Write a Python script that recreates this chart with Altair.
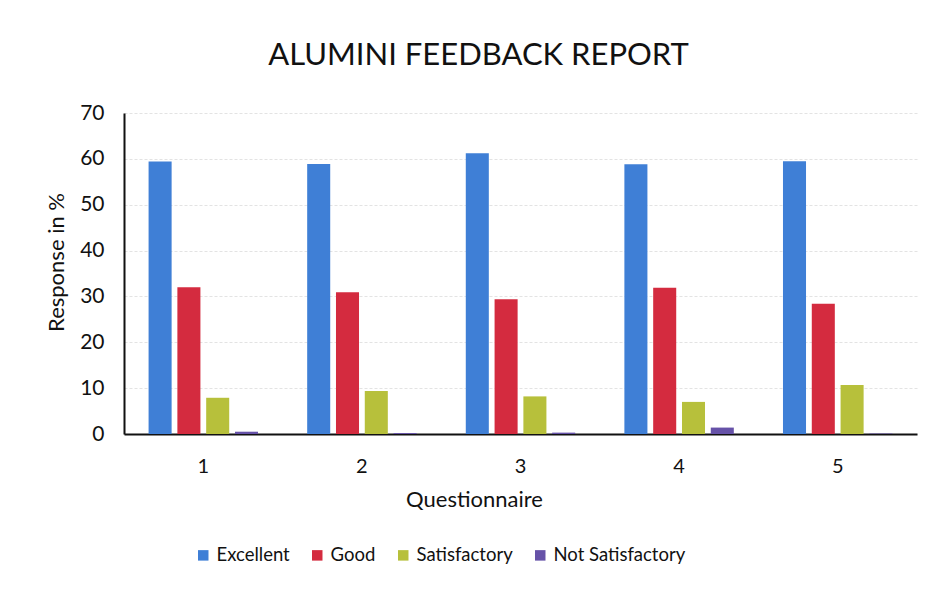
import altair as alt
import pandas as pd

questions = ["1", "2", "3", "4", "5"]
categories = ["Excellent", "Good", "Satisfactory", "Not Satisfactory"]
excellent = [59.4, 58.9, 61.2, 58.8, 59.5]
good = [32.0, 30.9, 29.4, 31.9, 28.4]
satisfactory = [7.9, 9.4, 8.2, 7.0, 10.7]
not_satisfactory = [0.5, 0.2, 0.3, 1.4, 0.1]
colors = ["#3f7fd6", "#d42b3f", "#b7c03b", "#6652a8"]

rows = []
for series, cat in zip([excellent, good, satisfactory, not_satisfactory], categories):
    for q, v in zip(questions, series):
        rows.append({"Questionnaire": q, "Category": cat, "Value": v})
df = pd.DataFrame(rows)

FONT = "Lato"

chart = alt.Chart(df).mark_bar().encode(
    x=alt.X("Questionnaire:N", sort=questions,
            scale=alt.Scale(paddingInner=0.31, paddingOuter=0.155),
            axis=alt.Axis(title="Questionnaire", labelAngle=0, ticks=False,
                          labelPadding=22, titlePadding=13, titleX=350,
                          domainColor="#111111", domainWidth=2,
                          labelFontSize=20, titleFontSize=22,
                          labelColor="#111111", titleColor="#111111",
                          titleFontWeight="normal")),
    xOffset=alt.XOffset("Category:N", sort=categories,
                        scale=alt.Scale(paddingInner=0.2, paddingOuter=0)),
    y=alt.Y("Value:Q", scale=alt.Scale(domain=[0, 70], nice=False),
            axis=alt.Axis(title="Response in %", values=[0, 10, 20, 30, 40, 50, 60, 70],
                          ticks=False, labelPadding=20, titlePadding=11, titleY=149,
                          domainColor="#111111", domainWidth=2,
                          gridColor="#e3e3e3", gridWidth=1, gridDash=[3, 2],
                          labelFontSize=21, titleFontSize=22,
                          labelColor="#111111", titleColor="#111111",
                          titleFontWeight="normal")),
    color=alt.Color("Category:N", sort=categories,
                    scale=alt.Scale(domain=categories, range=colors),
                    legend=alt.Legend(title=None, orient="none", direction="horizontal",
                                      legendX=70, legendY=433,
                                      symbolType="square", symbolSize=110,
                                      symbolStrokeWidth=0,
                                      labelFontSize=18.5, labelColor="#111111",
                                      columnPadding=18, labelOffset=4)),
).properties(
    width=793,
    height=321,
    title=alt.TitleParams("ALUMINI FEEDBACK REPORT", fontSize=31, fontWeight="normal",
                          color="#111111", offset=30, dx=-42, font=FONT),
    autosize=alt.AutoSizeParams(type="none"),
    padding={"left": 116, "top": 105, "right": 11, "bottom": 145},
).configure(font=FONT).configure_view(stroke=None).configure_axis(
    labelFont=FONT, titleFont=FONT
).configure_legend(labelFont=FONT)

chart.save("out.html", embed_options={"renderer": "svg", "actions": False})
